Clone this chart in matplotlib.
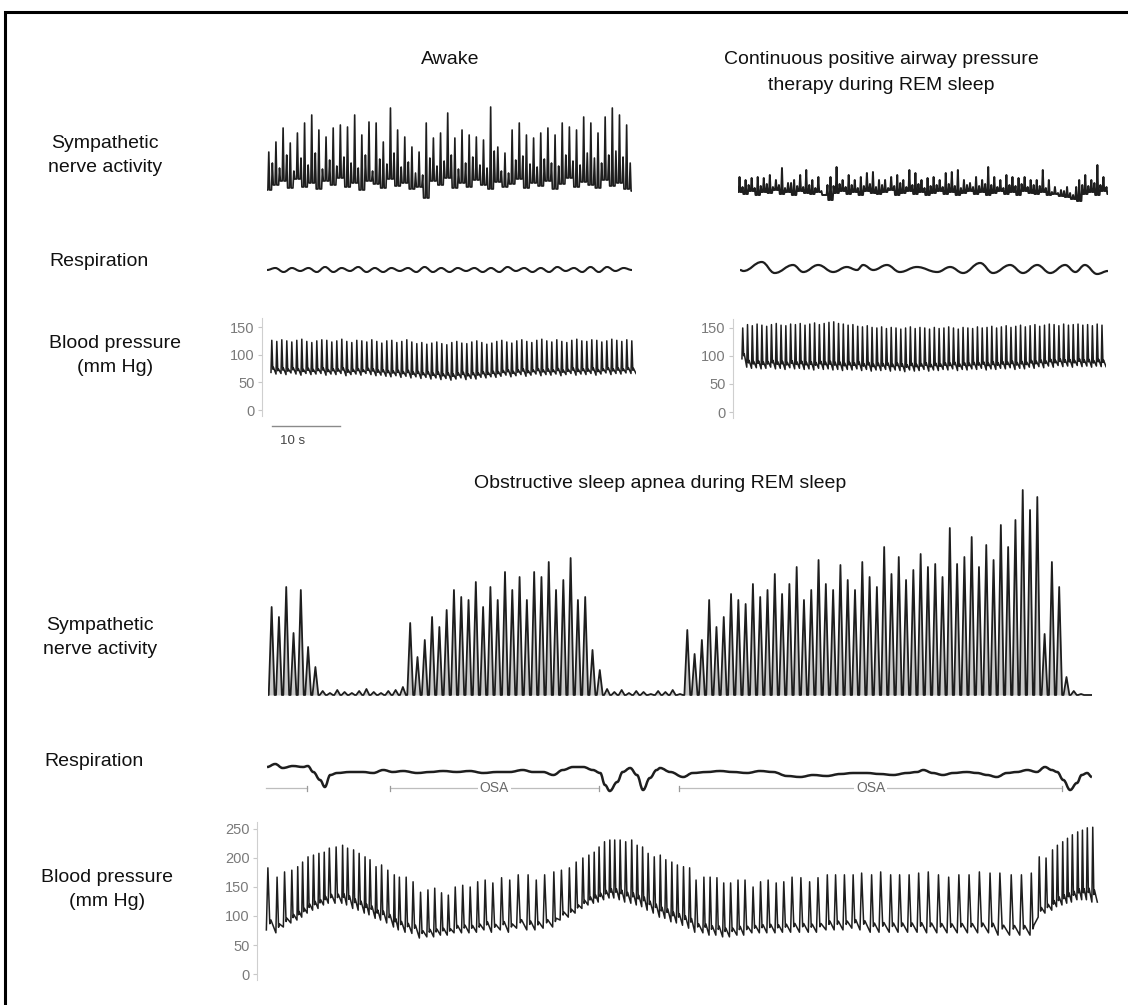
import numpy as np
import matplotlib.pyplot as plt
from matplotlib.path import Path
from matplotlib.patches import PathPatch, Rectangle
from matplotlib.lines import Line2D

W, H = 1128, 1005
plt.rcParams['font.family'] = ['Liberation Sans', 'DejaVu Sans']
ink = '#1e1e1e'

# ---------------- Awake (beat / burst index on x) ----------------
# sympathetic bursts: main peak, smaller peak that follows, and the floor (arb. units)
awake_sna_peaks = [41, 51, 65, 50, 60, 70, 78, 63, 56, 65, 68, 66, 78, 58, 71, 70, 51, 85, 63, 56,
                   46, 41, 70, 55, 60, 80, 55, 63, 58, 56, 53, 86, 46, 40, 63, 70, 58, 55, 60, 65,
                   58, 70, 66, 63, 76, 70, 60, 76, 85, 78, 68]
awake_sna_minor = [30, 25, 38, 22, 35, 28, 40, 24, 33, 27, 36, 30, 25, 38, 22, 34, 29, 40, 26, 31,
                   20, 18, 35, 27, 32, 38, 24, 30, 36, 28, 25, 42, 22, 20, 33, 37, 29, 26, 34, 30,
                   27, 38, 32, 28, 40, 35, 30, 38, 42, 36, 30]
awake_sna_floor = [3, 8, 12, 5, 14, 6, 10, 4, 12, 8, 15, 6, 10, 3, 12, 9, 5, 14, 7, 10, 4, 6, -5,
                   12, 8, 15, 5, 10, 6, 13, 8, 4, 11, 6, 9, 14, 5, 10, 7, 12, 4, 9, 15, 6, 11, 8,
                   5, 13, 7, 10, 4, 2]
# respiration extremes (half breaths)
awake_resp = [0, 2, -2, 2, -1, 2, -2, 3, -2, 2, -1, 3, -2, 2, -2, 2, -1, 2, -2, 3, -2, 2, -2,
              2, -1, 2, -2, 2, -2, 3, -1, 2, -2, 2, -2, 3, -1, 2, -2, 3, -2, 3, -1, 2, 0]
# blood pressure per beat (mm Hg)
awake_sys = [126, 124, 127, 125, 123, 126, 128, 124, 122, 125, 127, 126, 123, 125, 128, 124, 122, 126,
             125, 123, 127, 124, 121, 125, 126, 122, 124, 127, 123, 120, 122, 119, 121, 123, 120, 118,
             122, 124, 121, 120, 123, 125, 122, 119, 121, 124, 126, 123, 121, 125, 127, 124, 122, 126,
             128, 125, 123, 127, 124, 122, 126, 128, 125, 124, 127, 126, 123, 125, 128, 126, 124, 127, 125]
awake_dia = [68, 65, 66, 64, 67, 65, 63, 66, 64, 65, 66, 63, 65, 64, 66, 62, 64, 65, 63, 66, 64, 62,
             63, 61, 60, 62, 59, 61, 58, 60, 57, 59, 56, 58, 55, 57, 54, 56, 58, 55, 57, 56, 59, 58,
             60, 59, 61, 63, 60, 62, 64, 61, 63, 65, 62, 64, 63, 65, 62, 64, 66, 63, 65, 64, 66, 63,
             65, 67, 64, 66, 65, 67, 66]

# ---------------- CPAP during REM sleep ----------------
cpap_sna_peaks = [20, 17, 19, 20, 19, 22, 17, 29, 14, 17, 22, 27, 17, 20, 2, 20, 30, 17, 22, 17,
                  20, 24, 25, 17, 17, 20, 22, 17, 27, 24, 17, 19, 20, 17, 24, 25, 27, 17, 14, 20,
                  17, 30, 20, 17, 22, 20, 19, 20, 17, 17, 27, 17, 10, 7, 10, 2, 17, 22, 17, 32, 20]
cpap_sna_minor = [10, 12, 9, 11, 13, 10, 12, 9, 14, 11, 10, 12, 9, 6, 12, 11, 13, 10, 12, 9,
                  11, 13, 10, 12, 9, 11, 14, 10, 12, 13, 9, 11, 12, 10, 13, 11, 9, 12, 10, 11,
                  13, 12, 10, 9, 12, 11, 13, 10, 12, 11, 9, 5, 4, 6, 4, 10, 12, 11, 14, 12, 10]
cpap_sna_floor = [5, 3, 6, 2, 5, 4, 7, 3, 5, 2, 6, 4, 3, 5, 2, -3, 4, 6, 3, 5, 2, 6, 4, 3, 5, 7,
                  2, 4, 6, 3, 5, 2, 4, 6, 3, 5, 2, 4, 6, 3, 5, 2, 4, 6, 3, 5, 2, 6, 4, 3, 5, 2,
                  3, 1, 0, -2, -4, 3, 5, 2, 6, 3]
cpap_resp_t = [0, 0.5, 3.2, 5.1, 7.8, 9.3, 11.5, 13.7, 15.7, 17.2, 18.1, 19.6, 21.6, 23.5, 26.0,
               29.0, 30.9, 32.8, 35.3, 37.2, 39.7, 41.6, 43.7, 45.6, 47.8, 49.3, 50.7, 52.5, 54.1]
cpap_resp_v = [0, -1, 8, -3, 5, -2, 5, -2, 3, 0, 5, 0, 5, -2, 3, -2, 3, -3, 7, -3, 5, -3, 5, -3,
               5, -2, 5, -4, -1]
cpap_sys = [150, 156, 154, 157, 155, 153, 156, 158, 155, 154, 157, 156, 158, 155, 157, 159, 156, 158,
            160, 161, 158, 157, 155, 156, 153, 152, 154, 151, 150, 152, 149, 151, 150, 148, 150, 152,
            149, 151, 150, 148, 151, 149, 150, 152, 150, 148, 151, 150, 149, 152, 150, 151, 153, 150,
            152, 154, 151, 153, 155, 152, 154, 156, 153, 155, 157, 156, 154, 157, 155, 156, 157, 155,
            156, 154, 157, 155]
cpap_dia = [95, 80, 78, 79, 77, 78, 80, 77, 78, 76, 79, 77, 78, 76, 77, 75, 78, 76, 77, 75, 76, 74,
            76, 75, 77, 74, 76, 73, 75, 74, 76, 73, 75, 74, 72, 75, 73, 74, 76, 73, 75, 74, 76, 75,
            77, 74, 76, 75, 77, 76, 78, 75, 77, 76, 78, 77, 79, 76, 78, 77, 80, 78, 81, 79, 82, 80,
            83, 81, 82, 80, 83, 81, 82, 80, 82, 81]

# ---------------- Obstructive sleep apnea during REM sleep ----------------
osa_sna_peaks = ([90, 80, 110, 64, 107, 50, 30] +
                 [6, 4, 7, 5, 4, 6, 8, 5, 4, 6, 7, 10] +
                 [74, 40, 57, 80, 70, 87, 107, 100, 97, 115, 90, 110, 97, 125, 107, 120, 97, 125,
                  120, 135, 107, 117, 139, 97, 100, 47, 27] +
                 [8, 5, 7, 4, 6, 5, 3, 6, 5, 7, 3] +
                 [67, 43, 57, 97, 70, 80, 103, 97, 93, 113, 100, 107, 123, 103, 113, 130, 97, 107,
                  137, 113, 107, 132, 117, 107, 135, 120, 110, 150, 123, 140, 117, 127, 143, 130,
                  133, 120, 169, 133, 140, 160, 130, 152, 137, 172, 150, 177, 207, 187, 200, 63,
                  135, 110, 20] +
                 [6, 3, 2])
osa_sna_floor = 2

# respiration trace (time in s, deflection)
osa_resp_t = [0.3, 1.5, 2.6, 4.1, 5.6, 6.3, 7.1, 8.1, 8.8, 9.6, 10.6, 12.5, 14.4, 15.9, 17.4, 18.8,
              20.3, 22.4, 24.3, 26.2, 28.2, 30.1, 32.1, 34.1, 36.0, 37.9, 39.4, 40.9, 42.4, 43.8,
              45.3, 46.8, 48.2, 49.3, 50.0, 50.7, 51.8, 52.6, 53.7, 54.7, 55.6, 56.6, 57.6, 58.1,
              59.6, 61.5, 62.9, 65.0, 66.9, 68.8, 70.9, 72.8, 74.7, 76.8, 78.7, 80.6, 82.6, 84.6,
              86.5, 88.5, 90.4, 92.4, 94.4, 95.9, 96.8, 98.2, 99.7, 101.2, 103.2, 104.7, 106.2,
              107.6, 109.1, 110.6, 112.1, 113.5, 114.7, 115.7, 116.5, 117.4, 118.4, 119.4, 120.1,
              120.9, 121.6]
osa_resp_v = [3, 6, 2, 4, 3, 4, -2, -10, -17, -5, -3, -2, -2, -3, 0, -2, -1, -3, -2, -1, -2, -1,
              -3, -2, -2, 0, -2, -2, -5, 0, 3, 3, 0, -3, -15, -21, -12, -2, 2, -5, -20, -8, 0, 2,
              -2, -7, -3, -2, -1, -2, -3, -1, -2, -6, -7, -5, -6, -4, -3, -3, -4, -5, -3, -2, 0,
              -3, -5, -3, -2, -3, -5, -7, -3, -2, 0, -2, 3, 0, -2, -10, -20, -13, -5, -3, -7]
# apnea episodes (s)
osa_start = [0.2, 18.4, 60.9]
osa_end = [6.2, 49.1, 117.2]
osa_label = ['', 'OSA', 'OSA']

# blood pressure beats (time in s, systolic, diastolic)
osa_bp_t = [0.2, 1.6, 2.7, 3.8, 4.7, 5.4, 6.2, 7.0, 7.8, 8.6, 9.3, 10.3, 11.3, 12.0, 12.9, 13.7,
            14.6, 15.3, 16.2, 17.0, 17.9, 18.9, 19.6, 20.6, 21.6, 22.7, 23.8, 24.8, 25.8, 26.8,
            27.8, 28.9, 30.0, 31.1, 32.2, 33.3, 34.6, 35.8, 37.0, 38.5, 39.7, 40.9, 42.3,
            43.4, 44.6, 45.6, 46.6, 47.5, 48.3, 49.0, 49.8, 50.6, 51.3, 52.1, 52.9, 53.8, 54.6,
            55.4, 56.2, 57.1, 58.0, 58.8, 59.7, 60.5, 61.4, 62.3, 63.2, 64.4, 65.3, 66.3, 67.3,
            68.3, 69.4, 70.4, 71.6, 72.7, 73.8, 75.0, 76.1, 77.3, 78.6, 79.9, 81.1, 82.5, 83.7,
            85.0, 86.3,
            87.5, 89.0, 90.3, 91.8, 93.1, 94.5, 95.9, 97.3, 98.8, 100.3, 101.8, 103.3, 104.8,
            106.4, 107.8, 109.5, 111.0, 112.5, 113.7, 114.7, 115.7, 116.4, 117.2, 117.9, 118.6,
            119.4, 120.1, 120.8, 121.6]
osa_sys = [183, 167, 176, 179, 185, 193, 202, 205, 208, 210, 217, 219, 222, 217, 214, 208, 202, 197,
           185, 188, 179, 171, 167, 167, 159, 141, 145, 148, 140, 136, 150, 153, 150, 159, 162, 157,
           166, 162, 171, 171, 162, 171, 176,
           179, 183, 193, 200, 205, 210, 219, 228, 231, 231, 231, 228, 231, 222, 219, 208, 202, 205,
           197, 193, 188, 185, 183, 162, 167, 167, 166, 157, 157, 162, 162, 150, 159, 162, 157, 159,
           167, 166, 159, 166, 171, 171, 171, 171,
           174, 171, 176, 171, 171, 171, 174, 176, 171, 167, 171, 171, 176, 174, 174, 171, 171, 174,
           202, 200, 214, 222, 228, 234, 240, 245, 248, 252, 253]
osa_dia = [76, 71, 81, 88, 93, 98, 105, 110, 113, 119, 122, 122, 122, 119, 113, 110, 105, 102, 96,
           93, 88, 81, 76, 72, 70, 62, 64, 64, 67, 67, 71, 71, 71, 72, 76, 72, 76, 72, 79, 76, 76,
           79, 81,
           93, 98, 105, 113, 119, 122, 124, 128, 131, 131, 128, 124, 122, 119, 116, 110, 105, 98,
           96, 90, 88, 84, 79, 72, 71, 67, 67, 64, 64, 67, 67, 71, 71, 71, 71, 72, 72, 72, 72, 72,
           76, 76, 76, 79,
           76, 72, 72, 72, 72, 72, 72, 71, 71, 71, 71, 71, 71, 71, 67, 67, 67, 67, 98, 105, 110,
           116, 119, 122, 124, 128, 128, 128, 124]

bp_ticks_top = [0, 50, 100, 150]
bp_ticks_osa = [0, 50, 100, 150, 200, 250]

# ------------------------------------------------------------------
fig = plt.figure(figsize=(W / 100, H / 100), dpi=100)


def place(x0, y0, x1, y1):
    ax = fig.add_axes([x0 / W, 1 - y1 / H, (x1 - x0) / W, (y1 - y0) / H])
    ax.patch.set_visible(False)
    return ax


def ftext(x, y, s, **kw):
    kw.setdefault('ha', 'center')
    kw.setdefault('va', 'center')
    kw.setdefault('fontsize', 14)
    kw.setdefault('color', '#111111')
    fig.text(x / W, 1 - y / H, s, **kw)


def sna(ax, peaks, floor, minor=None, width=1.0, lw=1.2, shade=None):
    # each burst rises from the floor and falls back; width = share of the burst interval
    peaks = np.asarray(peaks, float)
    fl = np.broadcast_to(np.asarray(floor, float), (len(peaks) + 1,))
    if minor is not None:
        peaks = np.column_stack([peaks, minor]).ravel()
        fl = np.concatenate([np.repeat(fl[:-1], 2), fl[-1:]])
    n = len(peaks)
    i = np.arange(n)
    x = np.column_stack([i + 0.5 - width / 2, i + 0.5, i + 0.5 + width / 2]).ravel()
    y = np.column_stack([fl[:-1], peaks, fl[1:]]).ravel()
    x = np.concatenate([[0], x, [n]])
    y = np.concatenate([[fl[0]], y, [fl[-1]]])
    if shade:
        ax.fill_between(x, y, fl.min(), color=shade, lw=0)
    ax.plot(x, y, color=ink, lw=lw)
    ax.set_xlim(0, n)
    ax.axis('off')


def smooth(ax, t, v, lw=1.6):
    verts = [(t[0], v[0])]
    codes = [Path.MOVETO]
    for i in range(1, len(t)):
        h = (t[i] - t[i - 1]) / 2.5
        verts += [(t[i - 1] + h, v[i - 1]), (t[i] - h, v[i]), (t[i], v[i])]
        codes += [Path.CURVE4] * 3
    ax.add_patch(PathPatch(Path(verts, codes), fill=False, ec=ink, lw=lw))
    ax.axis('off')


def bp(ax, t, s, d, ticks, lw=1.1):
    t = np.asarray(t, float)
    s = np.asarray(s, float)
    d = np.asarray(d, float)
    dt = np.append(np.diff(t), np.diff(t)[-1])
    xs = np.column_stack([t, t + 0.16 * dt, t + 0.36 * dt, t + 0.48 * dt]).ravel()
    ys = np.column_stack([d, s, d + 0.10 * (s - d), d + 0.16 * (s - d)]).ravel()
    xs = np.append(xs, t[-1] + dt[-1])
    ys = np.append(ys, d[-1])
    ax.plot(xs, ys, color=ink, lw=lw)
    ax.set_xlim(t[0] - 0.2 * dt[0], xs[-1])
    for side in ['top', 'right', 'bottom']:
        ax.spines[side].set_visible(False)
    ax.spines['left'].set_position(('outward', 6))
    ax.spines['left'].set_color('#cfcfcf')
    ax.set_xticks([])
    ax.set_yticks(ticks)
    ax.tick_params(axis='y', colors='#c8c8c8', labelcolor='#7a7a7a', labelsize=10.5,
                   length=3, width=0.8, pad=2)


# outer frame
fig.add_artist(Rectangle((5 / W, -0.1), 1.2, 1 - 12 / H + 0.1, transform=fig.transFigure,
                         fill=False, lw=2.2, ec='black'))

# titles
ftext(450, 60, 'Awake')
ftext(881, 60, 'Continuous positive airway pressure')
ftext(881, 85, 'therapy during REM sleep')
ftext(660, 483, 'Obstructive sleep apnea during REM sleep')

# row labels
ftext(105, 143, 'Sympathetic')
ftext(105, 167, 'nerve activity')
ftext(99, 261, 'Respiration')
ftext(115, 343, 'Blood pressure')
ftext(115, 367, '(mm Hg)')
ftext(100, 625, 'Sympathetic')
ftext(100, 649, 'nerve activity')
ftext(94, 761, 'Respiration')
ftext(107, 877, 'Blood pressure')
ftext(107, 901, '(mm Hg)')

# awake
ax = place(267, 100, 632, 203)
sna(ax, awake_sna_peaks, awake_sna_floor, minor=awake_sna_minor, width=0.5, lw=1.2)
ax.set_ylim(-10, 93)

ax = place(267, 258, 632, 282)
smooth(ax, np.arange(len(awake_resp)), awake_resp, lw=1.5)
ax.set_xlim(0, len(awake_resp) - 1)
ax.set_ylim(-12, 12)

ax = place(270, 318, 636, 416)
bp(ax, np.arange(len(awake_sys)), awake_sys, awake_dia, bp_ticks_top)
ax.set_ylim(-10.8, 166.3)

# 10 s scale bar
fig.add_artist(Line2D([272 / W, 340 / W], [1 - 426 / H, 1 - 426 / H], color='#8a8a8a', lw=1.0))
ftext(293, 441, '10 s', fontsize=9.5, color='#444444')

# CPAP
ax = place(738, 150, 1108, 203)
sna(ax, cpap_sna_peaks, cpap_sna_floor, minor=cpap_sna_minor, width=0.55, lw=1.4)
ax.set_ylim(-6, 47)

ax = place(740, 255, 1108, 285)
smooth(ax, cpap_resp_t, cpap_resp_v, lw=1.6)
ax.set_xlim(cpap_resp_t[0], cpap_resp_t[-1])
ax.set_ylim(-15, 15)

ax = place(741, 319, 1106, 418)
bp(ax, np.arange(len(cpap_sys)), cpap_sys, cpap_dia, bp_ticks_top)
ax.set_ylim(-10.7, 166)

# OSA
ax = place(268, 485, 1092, 705)
sna(ax, osa_sna_peaks, osa_sna_floor, width=0.8, lw=1.3, shade='#cacaca')
ax.set_ylim(-8, 212)

ax = place(265, 740, 1100, 800)
smooth(ax, osa_resp_t, osa_resp_v, lw=1.8)
for a, b, lab in zip(osa_start, osa_end, osa_label):
    ax.plot([a, b], [-18, -18], color='#bdbdbd', lw=0.9)
    ax.plot([b, b], [-20.5, -15.5], color='#9a9a9a', lw=0.9)
    if lab:
        ax.plot([a, a], [-20.5, -15.5], color='#9a9a9a', lw=0.9)
        ax.text((a + b) / 2, -18, lab, ha='center', va='center', fontsize=10, color='#6a6a6a',
                bbox=dict(fc='white', ec='none', pad=1.5))
ax.set_xlim(0, (1100 - 265) / 6.8)
ax.set_ylim(-30, 30)

ax = place(265, 822, 1100, 980)
bp(ax, osa_bp_t, osa_sys, osa_dia, bp_ticks_osa)
ax.set_xlim(0, (1100 - 265) / 6.8)
ax.set_ylim(-10.3, 262)

fig.savefig('out.png', dpi=100)
